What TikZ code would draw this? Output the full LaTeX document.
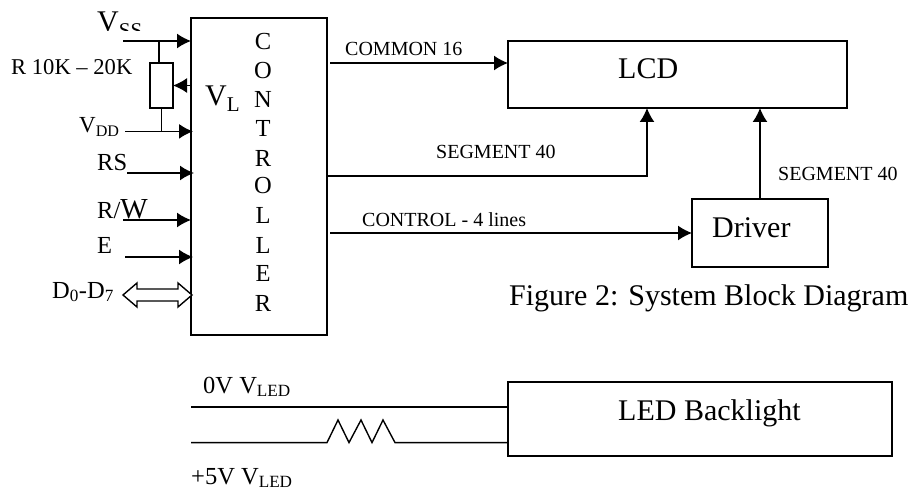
\documentclass[tikz,border=0pt]{standalone}
\usepackage{fontspec}
\setmainfont{Liberation Serif}
\usetikzlibrary{arrows.meta}
\tikzset{
	wire/.style={line width=1.4pt,-{Latex[length=14pt,width=15pt]}},
	plainwire/.style={line width=1.4pt},
	blockbox/.style={draw,line width=1.4pt,inner sep=0pt,outer sep=0pt},
	lab/.style={font=\fontsize{24.5}{27}\selectfont,inner sep=0pt,anchor=base west},
	smalllab/.style={font=\fontsize{20}{22}\selectfont,inner sep=0pt,anchor=base west},
	biglab/.style={font=\fontsize{30}{33}\selectfont,inner sep=0pt,anchor=base west},
}
\begin{document}
\begin{tikzpicture}[x=1pt,y=-1pt]
	\useasboundingbox (0,0) rectangle (910,492);
	% blocks
	\node[blockbox,minimum width=136pt,minimum height=317pt] (ctl) at (259,176.5) {};
	\node[blockbox,minimum width=339pt,minimum height=67pt] (lcd) at (677.5,74.5) {};
	\node[blockbox,minimum width=136pt,minimum height=68pt] (drv) at (760,233) {};
	\node[blockbox,minimum width=384pt,minimum height=74pt] (bkl) at (700,419) {};
	\node[blockbox,minimum width=23pt,minimum height=45pt] (res) at (161.5,85.5) {};
	\node[biglab] (lcdlab) at (618,79) {LCD};
	\node[biglab] (drvlab) at (712,237) {Driver};
	\node[biglab] (bkllab) at (618,420) {LED Backlight};
	\node[biglab] (figlab) at (509,305) {Figure 2: System Block Diagram};
	\foreach \ch/\yy in {C/42,O/71,N/99,T/128,R/158,O/186,L/215,L/245,E/273,R/303}
		\node[lab,anchor=center] (let\yy) at (263,\yy) {\ch};
	% left side
	\coordinate (vss) at (123,41);
	\coordinate (vdd) at (125,131.4);
	\coordinate (rs) at (127,173);
	\coordinate (rw) at (123,220);
	\coordinate (en) at (125,257);
	\draw[wire] (vss) -- (vss -| ctl.west);
	\draw[wire] (vdd) -- ([xshift=2pt]vdd -| ctl.west);
	\draw[wire] (rs) -- ([xshift=3pt]rs -| ctl.west);
	\draw[wire] (rw) -- (rw -| ctl.west);
	\draw[wire] (en) -- ([xshift=2pt]en -| ctl.west);
	\draw[plainwire] ([xshift=-2.5pt]res.north) -- ([xshift=-2.5pt]res.north |- vss);
	\draw[plainwire] (res.south) -- (res.south |- vdd);
	\draw[wire] (res.east -| ctl.west) -- (res.east);
	\draw[line width=1.4pt,fill=white] (123,295) -- (137,283) -- (137,289) -- (178,289) -- (178,283) -- (192,295) -- (178,307) -- (178,301) -- (137,301) -- (137,307) -- cycle;
	\begin{scope}
		\clip (90,0) rectangle (150,31);
		\node[biglab] (vsslab) at (97,32) {V\textsubscript{SS}};
	\end{scope}
	\node[lab,font=\fontsize{22.6}{25}\selectfont] (rlab) at (11,75) {R 10K – 20K};
	\node[biglab] (vllab) at (205,106) {V\textsubscript{L}};
	\node[lab,font=\fontsize{23}{25}\selectfont] (vddlab) at (79,133) {V\textsubscript{DD}};
	\node[lab] (rslab) at (97,170) {RS};
	\node[lab] (rwlab) at (97,218) {R/{\fontsize{29}{30}\selectfont W}};
	\node[lab] (enlab) at (97,253) {E};
	\node[lab] (dlab) at (52,298) {D\textsubscript{0}-D\textsubscript{7}};
	% right side
	\coordinate (com) at (330,63);
	\coordinate (seg) at (647,176);
	\coordinate (cnt) at (330,233);
	\draw[wire] (com) -- (com -| lcd.west);
	\draw[wire] (seg -| ctl.east) -- (seg) -- (seg |- lcd.south);
	\draw[wire] (cnt) -- (cnt -| drv.west);
	\draw[wire] (drv.north) -- (drv.north |- lcd.south);
	\node[smalllab] (comlab) at (345,56) {COMMON 16};
	\node[smalllab] (seglab) at (436,158) {SEGMENT 40};
	\node[smalllab] (cntlab) at (362,226) {CONTROL - 4 lines};
	\node[smalllab] (drvseg) at (778,180) {SEGMENT 40};
	% backlight wires
	\coordinate (zero) at (191,407);
	\coordinate (five) at (191,442.6);
	\draw[plainwire] (zero) -- (zero -| bkl.west);
	\draw[plainwire,line join=miter] (five) -- (327,442.6) -- (338,420) -- (349,442.6) -- (361,420) -- (372,442.6) -- (383,420) -- (395,442.6) -- (five -| bkl.west);
	\node[lab] (zerolab) at (203,393) {0V V\textsubscript{LED}};
	\node[lab] (fivelab) at (191,484) {+5V V\textsubscript{LED}};
\end{tikzpicture}
\end{document}
